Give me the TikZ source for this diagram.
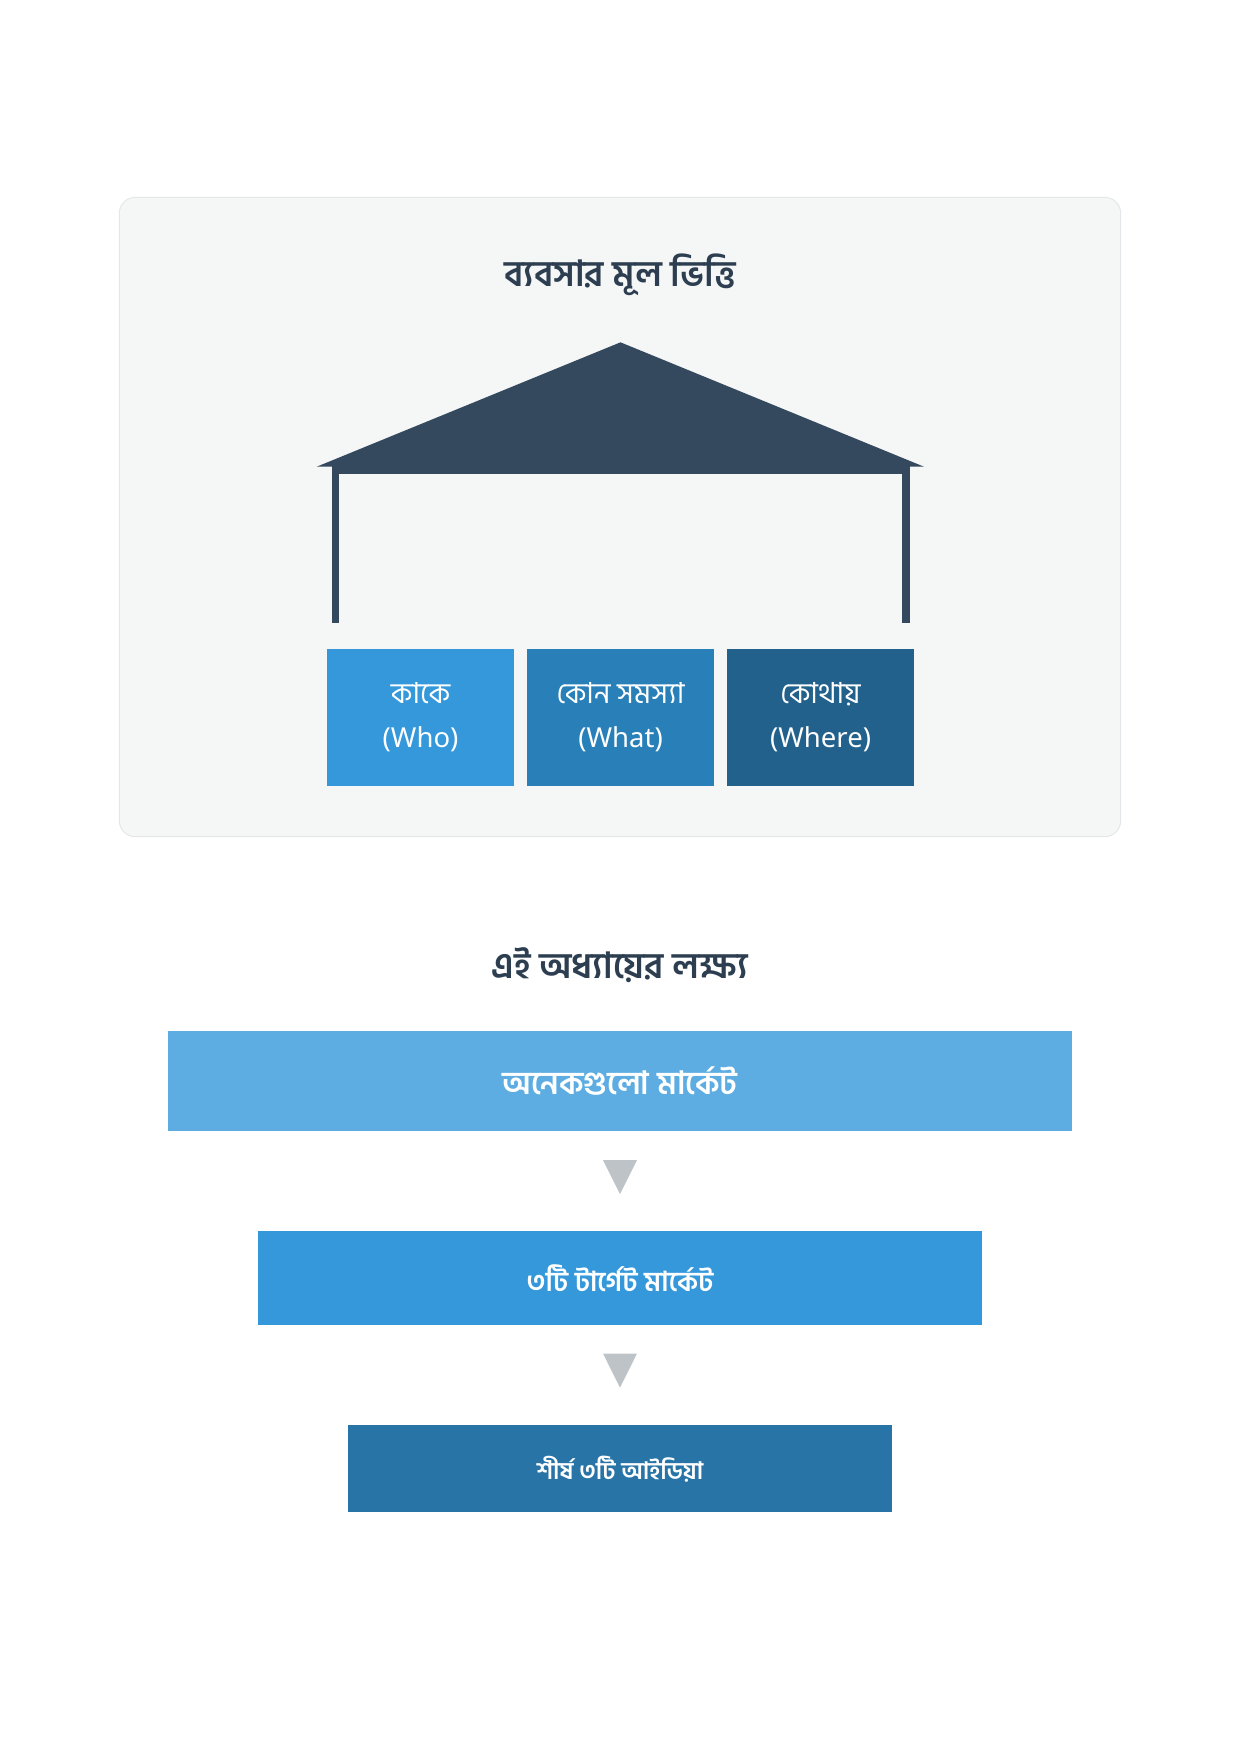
\documentclass[tikz,border=0pt]{standalone}
\usepackage{fontspec}
\usetikzlibrary{calc}
\setmainfont{Hind Siliguri}[Script=Bengali]
\newfontfamily\latinfont{Noto Sans}
\definecolor{panelfill}{HTML}{F5F7F7}
\definecolor{panelline}{HTML}{E3E7E9}
\definecolor{roof}{HTML}{34495E}
\definecolor{titlecol}{HTML}{2C3E50}
\definecolor{cwho}{HTML}{3498DB}
\definecolor{cwhat}{HTML}{2980B9}
\definecolor{cwhere}{HTML}{21618C}
\definecolor{cA}{HTML}{5DADE2}
\definecolor{cB}{HTML}{3498DB}
\definecolor{cC}{HTML}{2874A6}
\definecolor{arrowcol}{HTML}{BDC3C7}
\begin{document}
\begin{tikzpicture}[x=1pt,y=-1pt,
  titletext/.style={text=titlecol, font=\fontsize{36}{42}\selectfont\bfseries, inner sep=0pt},
  pillarbox/.style={anchor=north west, inner sep=0pt, minimum width=187.3pt, minimum height=137.4pt,
     text=white, align=center, font=\fontsize{29}{44}\selectfont},
  stepbox/.style={inner sep=0pt, text=white, font=\bfseries},
  downtri/.style={fill=arrowcol}
]
\useasboundingbox (0,0) rectangle (1240,1754);
% panel
\draw[fill=panelfill, draw=panelline, line width=1pt, rounded corners=16pt] (119.3,197.3) rectangle (1120.7,836.7);
\node[titletext] (title) at (620,275) {ব্যবসার মূল ভিত্তি};
% roof, beam, posts
\fill[roof] (316.7,466.7) -- (620.5,342.3) -- (924,466.7) -- cycle;
\fill[roof] (331.7,466.2) rectangle (909.7,474.3);
\fill[roof] (331.7,466.7) rectangle (339.3,623);
\fill[roof] (902,466.7) rectangle (909.7,623);
% pillars
\node[pillarbox, fill=cwho] (who) at (326.7,648.3) {কাকে\\{\latinfont\fontsize{27.5}{44}\selectfont (Who)}};
\node[pillarbox, fill=cwhat] (what) at (526.7,648.3) {কোন সমস্যা\\{\latinfont\fontsize{27.5}{44}\selectfont (What)}};
\node[pillarbox, fill=cwhere] (where) at (726.7,648.3) {কোথায়\\{\latinfont\fontsize{27.5}{44}\selectfont (Where)}};
% goals
\node[titletext] (goal) at (620,965) {এই অধ্যায়ের লক্ষ্য};
\node[stepbox, fill=cA, minimum width=903.4pt, minimum height=100pt, font=\fontsize{32}{38}\selectfont\bfseries] (A) at (620,1081) {অনেকগুলো মার্কেট};
\node[stepbox, fill=cB, minimum width=724.6pt, minimum height=93.7pt, font=\fontsize{27.5}{32}\selectfont\bfseries] (B) at (620,1278) {৩টি টার্গেট মার্কেট};
\node[stepbox, fill=cC, minimum width=543.4pt, minimum height=87.3pt, font=\fontsize{24}{28}\selectfont\bfseries] (C) at (620,1468.7) {শীর্ষ ৩টি আইডিয়া};
% arrows
\fill[downtri] ($(A.south)+(-16.9,29)$) -- ($(A.south)+(16.9,29)$) -- ($(A.south)+(0,63)$) -- cycle;
\fill[downtri] ($(B.south)+(-16.9,28.6)$) -- ($(B.south)+(16.9,28.6)$) -- ($(B.south)+(0,62.6)$) -- cycle;
\end{tikzpicture}
\end{document}
